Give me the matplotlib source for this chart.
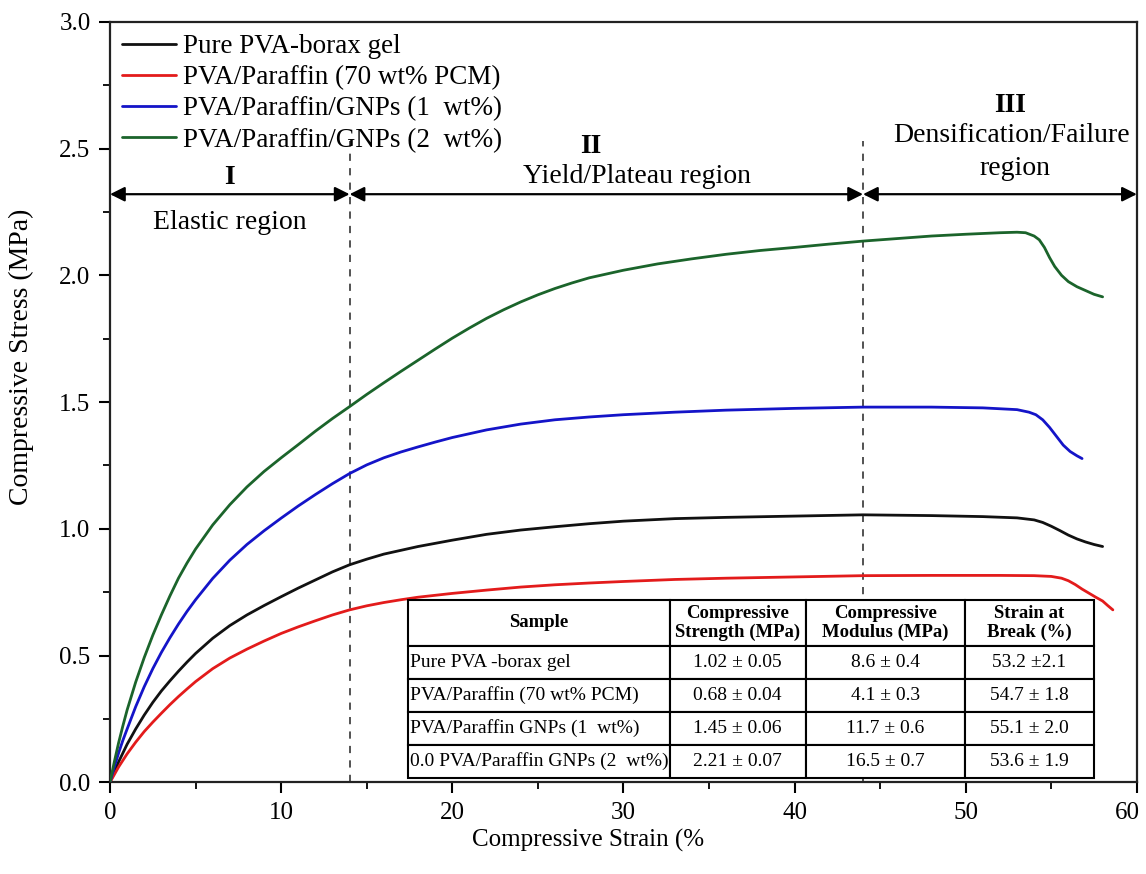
"""Compressive stress-strain curves of PVA-borax / paraffin / GNP gels with summary table."""
import matplotlib

matplotlib.use("Agg")
import matplotlib.pyplot as plt
from matplotlib.ticker import FormatStrFormatter, FuncFormatter, MultipleLocator

plt.rcParams["font.family"] = ["Liberation Serif", "DejaVu Serif"]

# --------------------------------------------------------------------------- #
# Data
# --------------------------------------------------------------------------- #
LABELS = [
    "Pure PVA-borax gel",
    "PVA/Paraffin (70 wt% PCM)",
    "PVA/Paraffin/GNPs (1  wt%)",
    "PVA/Paraffin/GNPs (2  wt%)",
]
COLORS = ["#111111", "#e31b1b", "#1414c8", "#1b642b"]

pure_strain = [0, 0.25, 0.5, 0.75, 1, 1.5, 2, 2.5, 3, 3.5, 4, 4.5, 5, 6, 7, 8, 9, 10, 11,
               12, 13, 14, 15, 16, 17, 18, 20, 22, 24, 26, 28, 30, 33, 36, 40, 44, 48, 51,
               53, 54, 54.5, 55, 55.5, 56, 56.5, 57, 57.5, 58]
pure_stress = [0, 0.04, 0.08, 0.115, 0.15, 0.21, 0.265, 0.315, 0.36, 0.40, 0.438, 0.474,
               0.508, 0.568, 0.618, 0.66, 0.697, 0.732, 0.766, 0.798, 0.83, 0.858, 0.88,
               0.90, 0.915, 0.93, 0.955, 0.978, 0.995, 1.008, 1.02, 1.03, 1.04, 1.045,
               1.05, 1.055, 1.052, 1.048, 1.043, 1.035, 1.025, 1.01, 0.993, 0.975, 0.96,
               0.948, 0.938, 0.93]

pcm_strain = [0, 0.25, 0.5, 0.75, 1, 1.5, 2, 2.5, 3, 3.5, 4, 4.5, 5, 6, 7, 8, 9, 10, 11,
              12, 13, 14, 15, 16, 17, 18, 20, 22, 24, 26, 28, 30, 33, 36, 40, 44, 48, 52,
              54, 55, 55.6, 56, 56.4, 56.8, 57.2, 57.6, 58, 58.3, 58.6]
pcm_stress = [0, 0.03, 0.06, 0.086, 0.112, 0.158, 0.20, 0.237, 0.272, 0.306, 0.338,
              0.368, 0.397, 0.448, 0.49, 0.525, 0.557, 0.587, 0.613, 0.637, 0.66, 0.68,
              0.696, 0.709, 0.72, 0.73, 0.745, 0.758, 0.77, 0.779, 0.786, 0.792, 0.80,
              0.805, 0.81, 0.815, 0.816, 0.816, 0.815, 0.812, 0.805, 0.795, 0.78, 0.762,
              0.746, 0.73, 0.715, 0.697, 0.68]

gnp1_strain = [0, 0.25, 0.5, 0.75, 1, 1.5, 2, 2.5, 3, 3.5, 4, 4.5, 5, 6, 7, 8, 9, 10, 11,
               12, 13, 14, 15, 16, 17, 18, 19, 20, 22, 24, 26, 28, 30, 33, 36, 40, 44, 48,
               51, 53, 53.7, 54.1, 54.5, 54.9, 55.3, 55.7, 56.1, 56.5, 56.8]
gnp1_stress = [0, 0.06, 0.115, 0.165, 0.21, 0.298, 0.377, 0.448, 0.512, 0.57, 0.624,
               0.674, 0.72, 0.804, 0.876, 0.938, 0.992, 1.042, 1.09, 1.135, 1.178, 1.218,
               1.252, 1.28, 1.303, 1.323, 1.342, 1.36, 1.39, 1.413, 1.43, 1.441, 1.45,
               1.46, 1.468, 1.475, 1.48, 1.48, 1.477, 1.47, 1.46, 1.45, 1.43, 1.40, 1.365,
               1.33, 1.305, 1.288, 1.277]

gnp2_strain = [0, 0.25, 0.5, 0.75, 1, 1.5, 2, 2.5, 3, 3.5, 4, 4.5, 5, 6, 7, 8, 9, 10, 11,
               12, 13, 14, 15, 16, 17, 18, 19, 20, 21, 22, 23, 24, 25, 26, 27, 28, 30, 32,
               34, 36, 38, 40, 42, 44, 46, 48, 50, 52, 53, 53.5, 54, 54.3, 54.6, 54.9,
               55.2, 55.6, 56, 56.5, 57, 57.5, 58]
gnp2_stress = [0, 0.08, 0.155, 0.222, 0.285, 0.395, 0.492, 0.58, 0.66, 0.735, 0.805,
               0.865, 0.92, 1.015, 1.095, 1.165, 1.226, 1.28, 1.332, 1.385, 1.435, 1.482,
               1.53, 1.576, 1.621, 1.665, 1.709, 1.752, 1.792, 1.83, 1.864, 1.895, 1.923,
               1.948, 1.97, 1.99, 2.02, 2.045, 2.065, 2.083, 2.098, 2.11, 2.123, 2.135,
               2.145, 2.155, 2.162, 2.168, 2.17, 2.168, 2.155, 2.14, 2.11, 2.07, 2.035,
               2.0, 1.975, 1.955, 1.94, 1.925, 1.915]

# Region boundaries (strain %) and labels
REGION_EDGES = [0, 14, 44, 60]
REGION_NUMERALS = ["I", "II", "III"]

# Summary table
TABLE_HEADER = ["Sample", "Compressive\nStrength (MPa)", "Compressive\nModulus (MPa)",
                "Strain at\nBreak (%)"]
TABLE_SAMPLES = ["Pure PVA -borax gel", "PVA/Paraffin (70 wt% PCM)",
                 "PVA/Paraffin GNPs (1  wt%)", "0.0 PVA/Paraffin GNPs (2  wt%)"]
TABLE_STRENGTH = ["1.02 ± 0.05", "0.68 ± 0.04", "1.45 ± 0.06", "2.21 ± 0.07"]
TABLE_MODULUS = ["8.6 ± 0.4", "4.1 ± 0.3", "11.7 ± 0.6", "16.5 ± 0.7"]
TABLE_BREAK = ["53.2 ±2.1", "54.7 ± 1.8", "55.1 ± 2.0", "53.6 ± 1.9"]


def draw_regions(ax):
    """Dashed boundaries, double arrows and region captions."""
    arrow_y = 2.32
    for xb in REGION_EDGES[1:3]:
        ax.plot([xb, xb], [0, 2.53], ls=(0, (4, 4)), color="#444444", lw=1.3, zorder=1)
    for x0, x1 in zip(REGION_EDGES[:-1], REGION_EDGES[1:]):
        ax.annotate("", xy=(x0, arrow_y), xytext=(x1, arrow_y),
                    arrowprops=dict(arrowstyle="<|-|>", color="black", lw=1.6,
                                    mutation_scale=22, shrinkA=0, shrinkB=0))
    kw = dict(ha="center", va="center", fontsize=20)
    ax.text(7, 2.385, REGION_NUMERALS[0], fontweight="bold", **kw)
    ax.text(7, 2.21, "Elastic region", **kw)
    ax.text(28.1, 2.51, REGION_NUMERALS[1], fontweight="bold", **kw)
    ax.text(30.8, 2.39, "Yield/Plateau region", **kw)
    ax.text(52.6, 2.67, REGION_NUMERALS[2], fontweight="bold", **kw)
    ax.text(52.7, 2.55, "Densification/Failure", **kw)
    ax.text(52.9, 2.42, "region", **kw)


def draw_table(ax):
    rows = [list(r) for r in zip(TABLE_SAMPLES, TABLE_STRENGTH, TABLE_MODULUS, TABLE_BREAK)]
    tbl = ax.table(cellText=rows, colLabels=TABLE_HEADER,
                   colWidths=[0.382, 0.198, 0.232, 0.188],
                   bbox=[0.29, 0.006, 0.668, 0.234], cellLoc="center")
    tbl.auto_set_font_size(False)
    header_h = 0.26
    row_h = (1 - header_h) / len(rows)
    for (r, c), cell in tbl.get_celld().items():
        cell.set_linewidth(1.5)
        cell.set_edgecolor("black")
        cell.set_facecolor("white")
        cell.set_height(header_h if r == 0 else row_h)
        txt = cell.get_text()
        if r == 0:
            txt.set_fontsize(13.5)
            txt.set_fontweight("bold")
            txt.set_linespacing(1.1)
        else:
            txt.set_fontsize(14)
            if c == 0:
                cell.set_text_props(ha="left")
                cell.PAD = 0.01
    tbl.set_zorder(5)
    return tbl


def main():
    fig = plt.figure(figsize=(11.46, 8.74), dpi=100)
    ax = fig.add_axes([0.096, 0.105, 0.896, 0.870])

    series = [(pure_strain, pure_stress), (pcm_strain, pcm_stress),
              (gnp1_strain, gnp1_stress), (gnp2_strain, gnp2_stress)]
    for (x, y), lab, col in zip(series, LABELS, COLORS):
        ax.plot(x, y, color=col, lw=2.0, label=lab, zorder=3,
                solid_capstyle="round", solid_joinstyle="round")

    ax.set_xlim(0, 60)
    ax.set_ylim(0, 3.0)
    ax.xaxis.set_major_locator(MultipleLocator(10))
    ax.xaxis.set_minor_locator(MultipleLocator(5))
    ax.yaxis.set_major_locator(MultipleLocator(0.5))
    ax.yaxis.set_minor_locator(MultipleLocator(0.25))
    ax.yaxis.set_major_formatter(FormatStrFormatter("%.1f"))
    # the "60" label is drawn separately so it stays inside the figure
    ax.xaxis.set_major_formatter(FuncFormatter(lambda v, _: "" if v >= 60 else f"{v:.0f}"))
    ax.tick_params(which="major", direction="out", length=8, width=1.5, labelsize=18, pad=6)
    ax.tick_params(which="minor", direction="out", length=5, width=1.3)
    for sp in ax.spines.values():
        sp.set_linewidth(1.6)
        sp.set_color("#222222")
    ax.annotate("60", xy=(60, 0), xycoords=("data", "axes fraction"), xytext=(-7, -14),
                textcoords="offset points", ha="center", va="top", fontsize=18,
                annotation_clip=False)

    ax.set_xlabel("Compressive Strain (%", fontsize=18)
    ax.xaxis.set_label_coords((588 - 110) / 1027, -0.062)
    ax.set_ylabel("Compressive Stress (MPa)", fontsize=20)
    ax.yaxis.set_label_coords(-0.074, 0.56)

    draw_regions(ax)
    draw_table(ax)

    ax.legend(loc="upper left", bbox_to_anchor=(0.0, 1.0), frameon=False, fontsize=19.5,
              handlelength=2.0, handletextpad=0.25, labelspacing=0.23, borderaxespad=0.3,
              borderpad=0.15)

    fig.savefig("out.png", dpi=100)
    plt.close(fig)


if __name__ == "__main__":
    main()
